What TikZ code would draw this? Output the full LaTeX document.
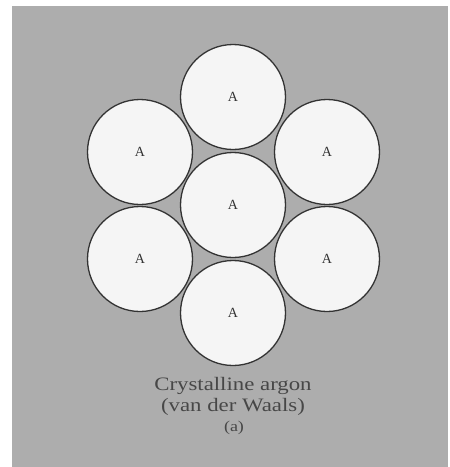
\documentclass[tikz,border=0pt]{standalone}
\usepackage{fontspec}
\setmainfont{Liberation Serif}
\begin{document}
\begin{tikzpicture}[x=1pt,y=-1pt,
  atom/.style={circle,draw=black!80,line width=1.3pt,fill=white!96!black,minimum size=105pt,inner sep=0pt,font=\fontsize{14}{16}\selectfont,text=black!80},
  caption/.style={font=\fontsize{19}{21}\selectfont,text=black!72,xscale=1.2,inner sep=0pt}]
\useasboundingbox (0,0) rectangle (450,467);
\fill[white] (0,0) rectangle (450,467);
\fill[black!32] (12,6) rectangle (448,467);
\node[atom] (c) at (233,205) {A};
\node[atom] (t) at (233,97) {A};
\node[atom] (b) at (233,313) {A};
\node[atom] (ul) at (140,152) {A};
\node[atom] (ll) at (140,259) {A};
\node[atom] (ur) at (327,152) {A};
\node[atom] (lr) at (327,259) {A};
\node[caption] (cap1) at (233,386) {Crystalline argon};
\node[caption] (cap2) at (233,407) {(van der Waals)};
\node[caption,font=\fontsize{15}{17}\selectfont] (lab) at (234,428) {(a)};
\end{tikzpicture}
\end{document}
